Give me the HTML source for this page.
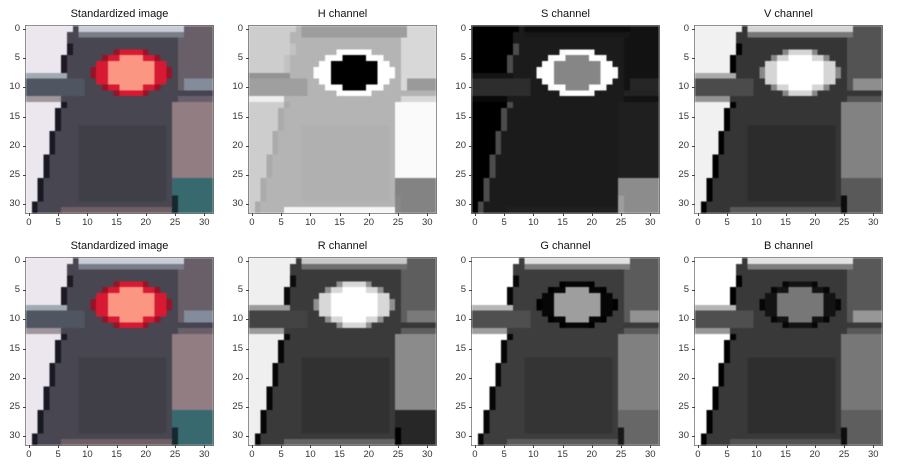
<!DOCTYPE html>
<html><head><meta charset="utf-8">
<style>
body{margin:0;background:#fff;width:902px;height:471px;position:relative;overflow:hidden;font-family:"Liberation Sans","DejaVu Sans",sans-serif;}
.ax{position:absolute;width:187px;height:187px;outline:1px solid #777;}
.ax canvas{width:187px;height:187px;display:block;image-rendering:pixelated;filter:blur(0.6px);}
.t{position:absolute;font-size:11px;color:#111;text-align:center;width:187px;}
.tk{position:absolute;font-size:9.5px;color:#333;}
.tm{position:absolute;background:#444;}
</style></head><body>
<script>
const titles=["Standardized image","H channel","S channel","V channel","Standardized image","R channel","G channel","B channel"];
const ticks=[0,5,10,15,20,25,30];
const colX=[26,249,472,695], rowY=[26,258], S=187, N=32;

function scene(x,y){
  let c=[72,70,80];
  if(y>=17&&y<=29&&x>=9&&x<=23)c=[64,63,72];
  if(x>=26)c=[105,95,105];
  if(x>=25&&y>=13&&y<=25)c=[145,125,130];
  if(x>=25&&y>=26)c=[55,105,110];
  if(x===25&&y>=29)c=[20,40,45];
  if(y===0&&x>=9&&x<=26)c=[200,205,215];
  if(y===1&&x>=9&&x<=26)c=[120,125,135];
  if(y<=7){const e=8-y*0.25;if(x<Math.floor(e))c=[236,230,238];else if(x===Math.floor(e)&&y>=3)c=[30,25,35];}
  if(y===8&&x<=6)c=[160,170,178];
  if(y>=9&&y<=11&&x<=9)c=[80,85,98];
  if((y===9||y===10)&&x>=27)c=[130,140,155];
  if(y===11&&x>=26)c=[70,68,80];
  if(y===12&&x<=5)c=[160,150,155];
  if(y>=13){const e=6-(y-13)*0.25;if(x<Math.floor(e))c=[236,230,238];else if(x===Math.floor(e))c=[25,25,35];}
  if(y===31&&x>=6&&x<=24)c=[110,95,100];
  const d=((x-17.5)/6.8)**2+((y-7.5)/4.0)**2;
  if(d<1){c=d>0.82?[150,20,40]:d>0.45?[215,25,50]:[250,150,130];}
  return c;
}
function hsv(c){const r=c[0]/255,g=c[1]/255,b=c[2]/255;const mx=Math.max(r,g,b),mn=Math.min(r,g,b),df=mx-mn;let h=0;
 if(df>0){if(mx===r)h=((g-b)/df+6)%6;else if(mx===g)h=(b-r)/df+2;else h=(r-g)/df+4;h/=6;}
 return [h,mx?df/mx:0,mx];}

const img=[];for(let y=0;y<N;y++){img.push([]);for(let x=0;x<N;x++)img[y].push(scene(x,y));}
function channel(fn){const v=[];let mn=1e9,mx=-1e9;for(let y=0;y<N;y++)for(let x=0;x<N;x++){const a=fn(img[y][x]);v.push(a);mn=Math.min(mn,a);mx=Math.max(mx,a);}
 return v.map(a=>{const g=Math.round((a-mn)/(mx-mn||1)*255);return [g,g,g];});}
const chans=[
 null,channel(c=>hsv(c)[0]),channel(c=>hsv(c)[1]),channel(c=>hsv(c)[2]),
 null,channel(c=>c[0]),channel(c=>c[1]),channel(c=>c[2])];

for(let i=0;i<8;i++){
  const L=colX[i%4],T=rowY[Math.floor(i/4)];
  const t=document.createElement('div');t.className='t';t.textContent=titles[i];
  t.style.left=L+'px';t.style.top=(T-18)+'px';
  
  
  document.body.appendChild(t);
  const ax=document.createElement('div');ax.className='ax';ax.style.left=L+'px';ax.style.top=T+'px';
  
  
  const cv=document.createElement('canvas');cv.width=N;cv.height=N;
  
  
  const ctx=cv.getContext('2d');const id=ctx.createImageData(N,N);
  for(let y=0;y<N;y++)for(let x=0;x<N;x++){const p=chans[i]?chans[i][y*N+x]:img[y][x];const k=(y*N+x)*4;id.data[k]=p[0];id.data[k+1]=p[1];id.data[k+2]=p[2];id.data[k+3]=255;}
  ctx.putImageData(id,0,0);ax.appendChild(cv);document.body.appendChild(ax);
  const sc=v=>(v+0.5)*S/N;
  ticks.forEach(v=>{
    const p=sc(v);
    const m1=document.createElement('div');m1.className='tm';m1.style.left=(L+p)+'px';m1.style.top=(T+S)+'px';m1.style.width='1px';m1.style.height='3px';
    
    
    document.body.appendChild(m1);
    const m2=document.createElement('div');m2.className='tm';m2.style.left=(L-3)+'px';m2.style.top=(T+p)+'px';m2.style.width='3px';m2.style.height='1px';
    
    
    document.body.appendChild(m2);
    const lx=document.createElement('div');lx.className='tk';lx.textContent=v;lx.style.left=(L+p-10)+'px';lx.style.width='20px';lx.style.textAlign='center';lx.style.top=(T+S+4)+'px';
    
    
    document.body.appendChild(lx);
    const ly=document.createElement('div');ly.className='tk';ly.textContent=v;ly.style.left=(L-28)+'px';ly.style.width='22px';ly.style.textAlign='right';ly.style.top=(T+p-6)+'px';
    
    
    document.body.appendChild(ly);
  });
}
</script>
</body></html>
